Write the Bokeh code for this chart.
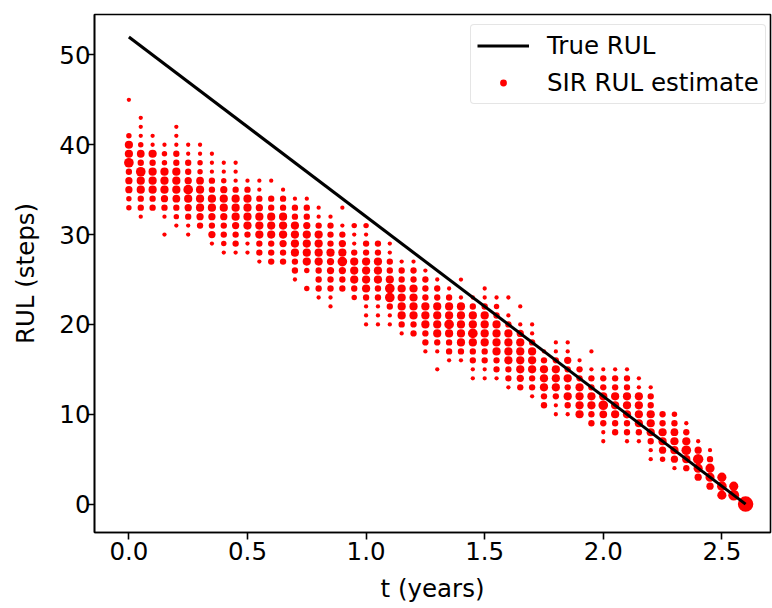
import math
from bokeh.plotting import figure
from bokeh.models import ColumnDataSource, Range1d, FixedTicker, PrintfTickFormatter, Legend, LegendItem
from bokeh.embed import file_html
from bokeh.resources import INLINE

# ---- data ----
t_years = [0.00, 0.05, 0.10, 0.15, 0.20, 0.25, 0.30, 0.35, 0.40, 0.45,
           0.50, 0.55, 0.60, 0.65, 0.70, 0.75, 0.80, 0.85, 0.90, 0.95,
           1.00, 1.05, 1.10, 1.15, 1.20, 1.25, 1.30, 1.35, 1.40, 1.45,
           1.50, 1.55, 1.60, 1.65, 1.70, 1.75, 1.80, 1.85, 1.90, 1.95,
           2.00, 2.05, 2.10, 2.15, 2.20, 2.25, 2.30, 2.35, 2.40, 2.45,
           2.50, 2.55, 2.60]

rul_values = [
    [45, 41, 40, 39, 38, 37, 36, 35, 34, 33],
    [43, 42, 41, 40, 39, 38, 37, 36, 35, 34, 33, 32],
    [41, 40, 39, 38, 37, 36, 35, 34, 33],
    [40, 39, 38, 37, 36, 35, 34, 33, 32, 30],
    [42, 41, 40, 39, 38, 37, 36, 35, 34, 33, 32, 31],
    [40, 39, 38, 37, 36, 35, 34, 33, 32, 31, 30],
    [40, 39, 38, 37, 36, 35, 34, 33, 32, 31],
    [39, 38, 37, 36, 35, 34, 33, 32, 31, 30, 29],
    [38, 37, 36, 35, 34, 33, 32, 31, 30, 29, 28],
    [38, 37, 36, 35, 34, 33, 32, 31, 30, 29, 28],
    [36, 35, 34, 33, 32, 31, 30, 29, 28],
    [36, 35, 34, 33, 32, 31, 30, 29, 28, 27],
    [36, 34, 33, 32, 31, 30, 29, 28, 27],
    [35, 34, 33, 32, 31, 30, 29, 28, 27],
    [34, 33, 32, 31, 30, 29, 28, 27, 26, 25],
    [34, 33, 32, 31, 30, 29, 28, 27, 26, 24],
    [33, 32, 31, 30, 29, 28, 27, 26, 25, 24, 23],
    [32, 31, 30, 29, 28, 27, 26, 25, 24, 23, 22],
    [33, 31, 30, 29, 28, 27, 26, 25, 24],
    [31, 30, 29, 28, 27, 26, 25, 24, 23],
    [31, 30, 29, 28, 27, 26, 25, 24, 23, 22, 21, 20],
    [29, 28, 27, 26, 25, 24, 23, 22, 21, 20],
    [29, 28, 27, 26, 25, 24, 23, 22, 21, 20],
    [27, 26, 25, 24, 23, 22, 21, 20, 19],
    [27, 26, 25, 24, 23, 22, 21, 20, 19],
    [26, 25, 24, 23, 22, 21, 20, 19, 18, 17],
    [25, 24, 23, 22, 21, 20, 19, 18, 17, 15],
    [24, 23, 22, 21, 20, 19, 18, 17, 16],
    [25, 23, 22, 21, 20, 19, 18, 17, 16],
    [23, 22, 21, 20, 19, 18, 17, 16, 15, 14],
    [24, 23, 22, 21, 20, 19, 18, 17, 16, 15, 14],
    [23, 22, 21, 20, 19, 18, 17, 16, 15, 14],
    [23, 21, 20, 19, 18, 17, 16, 15, 14, 13],
    [22, 20, 19, 18, 17, 16, 15, 14, 13],
    [20, 19, 18, 17, 16, 15, 14, 13, 12],
    [17, 16, 15, 14, 13, 12, 11],
    [18, 17, 16, 15, 14, 13, 12, 11, 10],
    [18, 17, 16, 15, 14, 13, 12, 11, 10],
    [16, 15, 14, 13, 12, 11, 10],
    [17, 15, 14, 13, 12, 11, 10, 9],
    [15, 14, 13, 12, 11, 10, 9, 8, 7],
    [15, 14, 13, 12, 11, 10, 9, 8],
    [15, 14, 13, 12, 11, 10, 9, 8, 7],
    [14, 13, 12, 11, 10, 9, 8, 7],
    [13, 12, 11, 10, 9, 8, 7, 6, 5],
    [10, 9, 8, 7, 6, 5],
    [10, 9, 8, 7, 6, 5, 4],
    [9, 8, 7, 6, 5, 4],
    [7, 6, 5, 4, 3],
    [6, 5, 4, 3, 2],
    [3, 2, 1],
    [2, 1],
    [0],
]

rul_weights = [
    [.04, .08, .23, .23, .34, .12, .17, .17, .08, .08],
    [.04, .04, .04, .08, .20, .12, .34, .23, .23, .12, .12, .04],
    [.04, .04, .23, .12, .23, .23, .23, .12, .12],
    [.04, .08, .08, .23, .23, .23, .17, .12, .04, .04],
    [.04, .04, .04, .12, .12, .23, .23, .23, .20, .12, .08, .04],
    [.04, .04, .12, .12, .17, .34, .23, .17, .12, .04, .04],
    [.04, .04, .08, .08, .20, .23, .23, .23, .17, .12],
    [.04, .04, .04, .12, .12, .23, .23, .17, .12, .17, .04],
    [.04, .04, .08, .17, .23, .23, .17, .12, .12, .08, .04],
    [.04, .04, .04, .12, .23, .23, .23, .17, .12, .12, .04],
    [.04, .12, .23, .23, .23, .23, .12, .04, .04],
    [.04, .04, .12, .17, .23, .23, .23, .12, .12, .04],
    [.04, .12, .12, .23, .23, .23, .12, .12, .12],
    [.04, .12, .12, .23, .23, .23, .17, .12, .12],
    [.04, .12, .12, .23, .23, .23, .23, .12, .12, .04],
    [.04, .12, .12, .17, .23, .23, .23, .23, .08, .08],
    [.04, .04, .12, .23, .23, .23, .23, .12, .12, .12, .04],
    [.04, .12, .12, .12, .23, .17, .17, .12, .12, .04, .04],
    [.04, .04, .12, .17, .23, .34, .17, .12, .12],
    [.08, .04, .04, .12, .23, .23, .23, .12, .08],
    [.08, .04, .12, .12, .23, .23, .23, .23, .12, .04, .04, .04],
    [.12, .12, .23, .23, .23, .12, .12, .04, .04, .04],
    [.04, .04, .12, .12, .23, .34, .34, .12, .04, .04],
    [.04, .12, .12, .23, .23, .23, .23, .12, .04],
    [.04, .12, .12, .23, .23, .23, .23, .12, .12],
    [.04, .12, .12, .12, .23, .23, .23, .12, .12, .04],
    [.04, .12, .12, .23, .23, .23, .23, .12, .04, .04],
    [.04, .12, .23, .23, .34, .23, .12, .12, .04],
    [.04, .04, .23, .23, .23, .23, .23, .12, .04],
    [.04, .12, .23, .23, .34, .23, .12, .12, .04, .04],
    [.04, .04, .12, .23, .23, .23, .23, .12, .12, .04, .04],
    [.04, .08, .12, .23, .23, .23, .23, .12, .12, .04],
    [.04, .04, .12, .23, .23, .23, .23, .12, .12, .04],
    [.04, .04, .17, .23, .23, .23, .23, .17, .12],
    [.04, .04, .12, .23, .23, .23, .12, .12, .04],
    [.04, .12, .23, .23, .23, .12, .12],
    [.04, .04, .12, .23, .23, .23, .12, .04, .04],
    [.04, .04, .17, .12, .23, .12, .23, .12, .04],
    [.04, .12, .12, .23, .23, .23, .23],
    [.04, .04, .12, .12, .23, .23, .12, .12],
    [.04, .12, .12, .23, .34, .20, .12, .04, .04],
    [.04, .12, .12, .23, .23, .23, .12, .12],
    [.04, .12, .12, .23, .23, .23, .12, .12, .04],
    [.04, .04, .23, .23, .23, .23, .12, .04],
    [.04, .12, .12, .23, .23, .23, .12, .04, .04],
    [.12, .12, .23, .23, .17, .08],
    [.08, .12, .20, .23, .23, .17, .04],
    [.04, .12, .23, .34, .23, .12],
    [.04, .17, .40, .30, .17],
    [.04, .12, .30, .30, .17],
    [.30, .34, .30],
    [.30, .45],
    [1.0],
]

true_t = [0.0, 2.6]
true_rul = [52, 0]

x_ticks = [0.0, 0.5, 1.0, 1.5, 2.0, 2.5]
y_ticks = [0, 10, 20, 30, 40, 50]

# ---- build sources ----
xs, ys, ws = [], [], []
for t, vals, wts in zip(t_years, rul_values, rul_weights):
    for v, w in zip(vals, wts):
        xs.append(t)
        ys.append(v)
        ws.append(w)
sizes = [1.5 + 14.0 * math.sqrt(w) for w in ws]
est_src = ColumnDataSource(dict(t=xs, rul=ys, w=ws, size=sizes))
true_src = ColumnDataSource(dict(t=true_t, rul=true_rul))

FONT = "DejaVu Sans"
FS = "24.5px"

p = figure(width=772, height=608, output_backend="svg", toolbar_location=None,
           x_range=Range1d(-0.145, 2.705), y_range=Range1d(-3.16, 54.5),
           min_border_left=94, min_border_right=2, min_border_top=14, min_border_bottom=76)
p.background_fill_color = "white"
p.border_fill_color = "white"
p.outline_line_color = "black"
p.outline_line_width = 1.6
p.grid.visible = False

sc_r = p.scatter("t", "rul", source=est_src, size="size", fill_color="#ff0000",
                 line_color=None, marker="circle")
line_r = p.line("t", "rul", source=true_src, line_color="black", line_width=3.1)

for ax in (p.xaxis[0], p.yaxis[0]):
    ax.axis_line_color = "black"
    ax.axis_line_width = 1.6
    ax.major_tick_line_color = "black"
    ax.major_tick_line_width = 1.6
    ax.major_tick_out = 7
    ax.major_tick_in = 0
    ax.minor_tick_line_color = None
    ax.major_label_text_font = FONT
    ax.major_label_text_font_size = FS
    ax.major_label_text_color = "black"
    ax.axis_label_text_font = FONT
    ax.axis_label_text_font_size = FS
    ax.axis_label_text_font_style = "normal"
    ax.axis_label_text_color = "black"

p.xaxis[0].major_label_standoff = 2
p.xaxis[0].axis_label_standoff = 11
p.yaxis[0].major_label_standoff = -3
p.yaxis[0].axis_label_standoff = 16

p.xaxis[0].ticker = FixedTicker(ticks=x_ticks)
p.xaxis[0].formatter = PrintfTickFormatter(format="%.1f")
p.yaxis[0].ticker = FixedTicker(ticks=y_ticks)
p.xaxis[0].axis_label = "t (years)"
p.yaxis[0].axis_label = "RUL (steps)"

legend = Legend(items=[LegendItem(label="True RUL", renderers=[line_r]),
                       LegendItem(label="SIR RUL estimate", renderers=[sc_r])],
                location=(376, 428))
legend.label_text_font = FONT
legend.label_text_font_size = FS
legend.label_text_color = "black"
legend.glyph_width = 52
legend.glyph_height = 17
legend.label_standoff = 18
legend.padding = 6
legend.spacing = 8
legend.margin = 0
legend.border_line_color = "#cccccc"
legend.border_line_width = 1.6
legend.background_fill_color = "white"
legend.background_fill_alpha = 0.8
try:
    legend.border_radius = 4
except Exception:
    pass
p.add_layout(legend)

open("out.html", "w").write(file_html(p, INLINE))
